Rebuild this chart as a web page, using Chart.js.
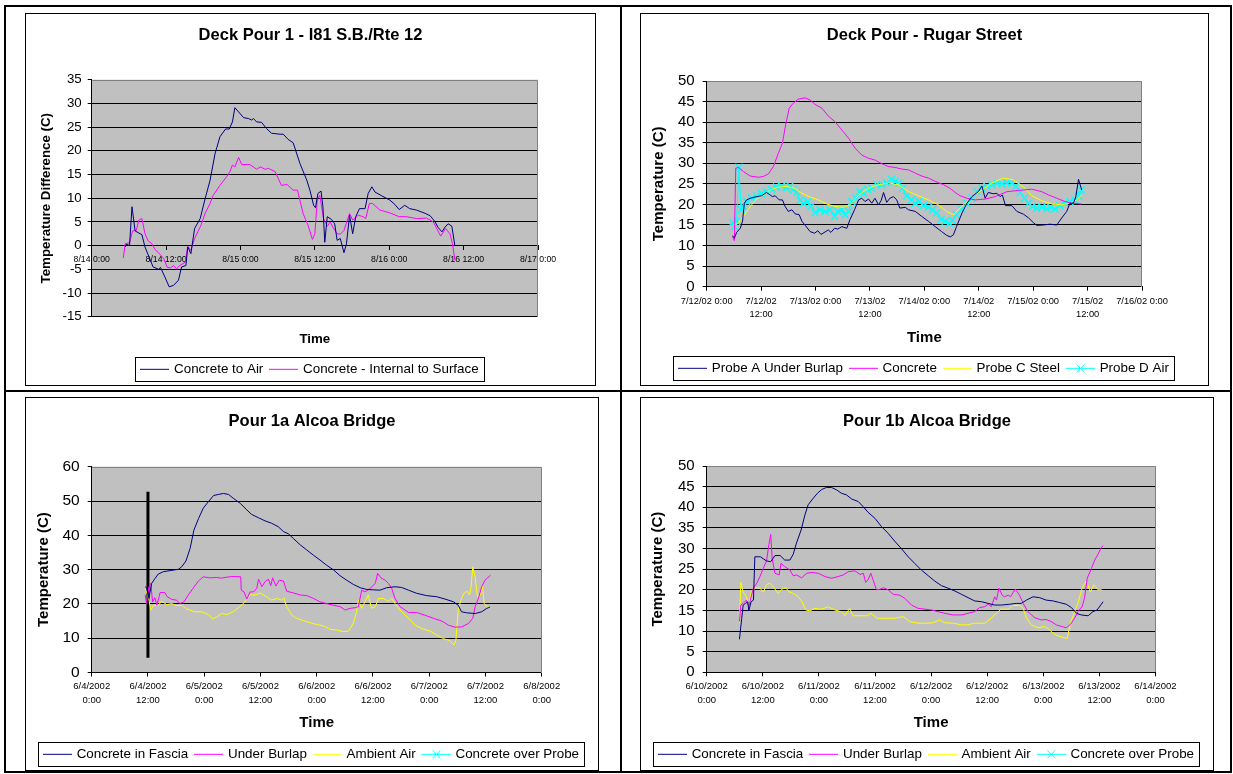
<!DOCTYPE html>
<html>
<head>
<meta charset="utf-8">
<script src="https://cdn.jsdelivr.net/npm/chart.js@4.4.0/dist/chart.umd.min.js"></script>
<style>
  html, body { margin: 0; padding: 0; background: #fff; }
  body { width: 1233px; height: 774px; position: relative; overflow: hidden; }
  .rule { position: absolute; background: #000; }
  .frame { position: absolute; border: 1px solid #000; box-sizing: border-box; }
  canvas { position: absolute; }
</style>
</head>
<body>
<!-- table rules -->
<div class="rule" style="left:4px;top:5px;width:1228px;height:2px"></div>
<div class="rule" style="left:4px;top:771px;width:1228px;height:2px"></div>
<div class="rule" style="left:4px;top:5px;width:2px;height:768px"></div>
<div class="rule" style="left:1230px;top:5px;width:2px;height:768px"></div>
<div class="rule" style="left:620px;top:5px;width:2px;height:768px"></div>
<div class="rule" style="left:4px;top:390px;width:1228px;height:2px"></div>

<!-- chart frames -->
<div class="frame" style="left:25px;top:13px;width:571px;height:373px"></div>
<div class="frame" style="left:640px;top:13px;width:569px;height:373px"></div>
<div class="frame" style="left:25px;top:397px;width:574px;height:374px"></div>
<div class="frame" style="left:640px;top:397px;width:574px;height:374px"></div>

<canvas id="deck" width="571" height="373" style="left:25px;top:13px"></canvas>
<canvas id="rugar" width="569" height="372" style="left:640px;top:13px"></canvas>
<canvas id="pour1a" width="574" height="374" style="left:25px;top:397px"></canvas>
<canvas id="pour1b" width="574" height="374" style="left:640px;top:397px"></canvas>

<script>
// ---------- Deck Pour 1 - I81 S.B./Rte 12 : [hours from 8/14 0:00, deg C] ----------
const deckConcreteToAir = [[5.4,-0.3],[5.6,0.3],[6.1,0],[6.5,8.2],[7.0,3.1],[8.1,2.3],[8.6,-0.3],[9.9,-4.5],[10.8,-5],[11.1,-4.6],[11.8,-6.6],[12.5,-8.7],[13.2,-8.4],[14.0,-7.3],[14.5,-4.5],[15.2,-4.2],[15.5,-0.3],[16.0,-1.7],[16.6,3.6],[17.5,5.7],[18.3,9.9],[19.1,13.8],[19.9,19.4],[20.7,23.0],[21.6,24.6],[22.2,24.6],[22.7,26.1],[23.1,29.1],[23.7,28.2],[24.5,27.0],[25.3,26.8],[25.8,26.5],[26.1,26.8],[26.6,26.1],[27.4,26.0],[28.2,24.7],[29.0,23.7],[30.4,23.5],[30.9,23.5],[31.7,22.4],[32.5,21.7],[33.6,17.3],[34.7,13.8],[35.2,11.7],[35.8,8.5],[36.1,8.0],[36.5,11.0],[37.0,11.5],[37.3,8.2],[37.6,0.7],[38.0,6.1],[38.7,5.5],[39.2,4.6],[39.6,1.1],[40.1,1.5],[40.7,-1.5],[41.1,0.4],[41.6,6.4],[42.1,2.5],[42.6,6.1],[43.2,7.8],[44.1,7.8],[44.6,11.0],[45.2,12.4],[45.7,11.3],[46.8,10.5],[48.1,9.6],[48.9,8.7],[49.6,7.6],[50.5,8.5],[51.3,7.8],[52.4,7.5],[53.8,6.8],[54.6,6.3],[55.4,5.0],[55.9,3.8],[56.5,2.9],[57.0,3.9],[57.5,4.6],[58.1,4.1],[58.6,-0.1]];
const deckInternalToSurface = [[5.1,-2.6],[5.4,0.4],[6.1,0.6],[6.6,3.1],[7.2,3.2],[7.6,5.4],[8.1,5.7],[8.6,2.5],[9.1,1.0],[9.7,0.4],[10.2,-0.8],[11.0,-1.8],[11.6,-2.7],[12.2,-4.6],[12.7,-4.7],[13.2,-4.2],[13.7,-4.9],[14.2,-4.2],[15.1,-3.5],[15.5,-0.1],[16.0,-1.0],[16.6,1.5],[17.6,4.2],[18.3,6.8],[19.1,8.9],[19.6,10.6],[20.7,12.7],[21.8,14.6],[22.3,15.6],[22.7,17.0],[23.1,16.6],[23.7,18.6],[24.2,17.1],[25.5,17.1],[26.1,16.6],[26.6,16.1],[27.2,16.6],[28.0,16.1],[28.5,16.3],[29.6,15.6],[30.6,12.7],[31.5,12.9],[32.5,11.7],[33.2,11.7],[34.1,6.8],[34.9,4.3],[35.6,1.3],[36.0,2.5],[36.4,9.9],[36.8,10.6],[37.4,5.7],[38.0,4.1],[38.5,5.0],[38.9,3.9],[39.6,2.5],[40.1,2.4],[40.7,3.2],[41.6,6.8],[42.1,5.4],[43.0,6.4],[43.8,6.1],[44.2,5.7],[44.8,8.9],[45.3,8.9],[46.5,7.5],[48.1,6.9],[49.6,6.1],[50.8,6.1],[52.4,5.7],[54.0,5.8],[55.1,5.0],[56.3,2.0],[57.1,3.6],[57.8,2.5],[58.2,0.4],[58.6,-3.1]];
const deckTickLabels = ['8/14 0:00','8/14 12:00','8/15 0:00','8/15 12:00','8/16 0:00','8/16 12:00','8/17 0:00'];

// ---------- Deck Pour - Rugar Street : [hours from 7/12/02 0:00, deg C] ----------
const rugarProbeA = [[5.7,12.4],[6.1,11.8],[6.6,13.2],[7.4,14.2],[7.9,15.9],[8.3,20.3],[8.8,21.1],[9.6,21.5],[10.7,21.8],[12.1,22.1],[13.2,22.9],[14.0,22.3],[14.5,21.9],[15.1,22.1],[16.0,21.1],[16.7,21.1],[17.3,19.5],[18.0,18.3],[18.8,18.7],[19.5,17.7],[20.4,17.5],[21.0,15.9],[21.8,14.8],[22.8,13.4],[23.8,13.0],[24.5,13.6],[25.2,12.7],[26.1,13.3],[26.8,13.8],[27.4,13.2],[28.2,14.2],[28.9,14.0],[29.8,14.6],[30.9,14.2],[31.6,16.3],[32.6,18.7],[33.5,21.1],[34.2,21.5],[34.9,20.7],[35.7,21.3],[36.4,20.3],[37.1,21.5],[37.9,19.9],[38.5,21.0],[39.0,22.9],[39.7,20.5],[40.4,21.5],[41.2,21.9],[41.9,21.1],[42.6,19.1],[43.8,19.3],[44.5,18.7],[46.0,18.3],[47.4,17.1],[48.9,15.9],[50.4,14.6],[51.8,13.4],[52.9,12.5],[53.7,12.1],[54.4,12.6],[55.1,14.6],[56.3,17.9],[57.4,20.3],[58.5,21.9],[59.9,23.1],[60.7,24.5],[61.4,21.5],[62.1,22.9],[63.2,22.6],[64.0,22.7],[64.7,21.9],[65.2,22.3],[65.9,19.7],[67.3,19.7],[68.4,18.3],[69.9,17.6],[71.0,16.7],[72.1,15.5],[72.8,14.9],[74.3,15.0],[75.7,15.2],[77.2,15.0],[78.3,16.7],[79.4,18.3],[80.1,20.3],[80.9,20.3],[81.4,21.9],[82.0,26.1],[82.7,23.5]];
const rugarConcrete = [[5.7,12.2],[6.1,11.2],[6.4,28.8],[7.0,29.0],[8.1,28.0],[9.6,26.9],[11.4,26.6],[12.5,26.8],[13.6,27.4],[14.7,29.2],[15.8,32.4],[16.7,34.9],[17.4,39.3],[18.2,43.4],[19.1,44.6],[20.2,45.6],[21.7,45.9],[22.8,45.4],[23.9,44.3],[25.4,43.4],[26.8,41.5],[28.3,40.1],[29.8,38.1],[31.3,36.1],[32.7,33.7],[34.2,32.0],[35.7,31.2],[37.1,30.8],[38.6,29.9],[40.1,29.2],[41.5,29.0],[43.0,28.6],[44.5,28.4],[46.0,27.6],[47.4,26.9],[48.9,26.4],[50.4,25.6],[52.2,24.8],[53.7,23.9],[54.8,22.9],[55.9,22.1],[57.4,21.5],[59.2,21.1],[61.4,21.3],[63.6,21.9],[66.2,23.1],[68.8,23.4],[71.7,23.7],[73.9,23.1],[75.4,22.3],[77.2,21.5],[79.0,20.7],[80.5,20.3],[82.7,20.1]];
const rugarSteel = [[5.9,15.0],[7.0,15.5],[8.1,17.1],[9.6,19.5],[11.0,21.3],[12.5,22.3],[14.0,23.5],[15.8,24.2],[17.6,24.4],[19.5,23.9],[21.0,22.7],[22.8,21.8],[24.6,21.1],[26.5,20.1],[28.3,19.5],[30.1,19.3],[31.6,19.9],[33.5,22.3],[35.7,23.9],[37.9,24.8],[40.1,25.2],[42.3,24.8],[44.5,23.1],[46.7,22.1],[48.9,21.1],[51.1,19.9],[52.9,18.3],[54.4,17.5],[55.5,18.7],[57.0,20.3],[58.8,22.1],[60.7,23.5],[62.9,25.2],[65.4,26.4],[67.6,26.0],[69.9,24.2],[71.7,22.1],[73.9,20.9],[76.1,20.1],[78.3,19.9],[80.1,20.3],[81.6,21.1],[82.7,22.3]];
const rugarAir = [[5.7,15.6],[6.1,14.6],[6.6,15.9],[7.1,29.0],[7.6,18.7],[8.1,19.5],[8.8,20.7],[9.9,21.5],[11.0,22.1],[12.1,22.6],[13.2,23.1],[14.3,23.7],[15.4,24.2],[16.5,24.4],[17.6,24.0],[18.4,24.5],[19.1,23.5],[19.9,22.9],[20.6,21.0],[21.3,20.3],[22.3,20.7],[23.0,19.5],[23.9,18.0],[25.0,18.7],[26.1,18.3],[27.2,18.7],[28.2,17.1],[28.9,18.3],[29.8,18.7],[30.5,17.5],[31.3,18.3],[32.0,20.7],[32.9,21.5],[33.8,23.1],[34.6,22.7],[35.5,23.7],[36.4,23.9],[37.5,24.8],[38.6,24.8],[39.7,25.2],[40.8,26.1],[41.5,25.6],[42.4,25.2],[43.2,23.9],[44.1,22.1],[45.1,21.1],[46.0,20.3],[46.8,20.7],[47.8,19.7],[48.9,19.3],[49.8,18.7],[50.7,17.9],[51.7,16.4],[52.6,15.9],[53.5,15.5],[54.2,16.1],[55.1,17.5],[56.3,18.9],[57.4,20.3],[58.5,21.5],[59.6,23.1],[60.7,23.9],[61.8,24.4],[62.9,24.8],[64.0,25.2],[65.1,25.0],[66.2,25.3],[67.3,25.2],[68.2,24.4],[69.1,22.9],[70.1,21.5],[71.0,20.3],[71.8,19.5],[72.8,19.1],[73.9,19.3],[75.0,18.9],[75.9,19.3],[76.8,18.9],[77.9,19.7],[79.0,20.3],[80.1,20.7],[81.2,21.1],[82.0,22.1],[82.6,23.5]];
const rugarTickLabels = ['7/12/02 0:00',['7/12/02','12:00'],'7/13/02 0:00',['7/13/02','12:00'],'7/14/02 0:00',['7/14/02','12:00'],'7/15/02 0:00',['7/15/02','12:00'],'7/16/02 0:00'];

// ---------- Pour 1a Alcoa Bridge : [hours from 6/4/2002 0:00, deg C] ----------
const pour1aFascia = [[11.4,25.0],[11.7,24.7],[12.2,21.6],[12.8,26.0],[13.5,27.4],[14.2,28.7],[15.3,29.4],[16.7,29.7],[18.5,30.1],[19.2,30.8],[20.1,32.5],[21.0,36.2],[21.8,41.5],[22.8,44.9],[23.8,47.9],[24.9,49.8],[26.0,51.6],[27.0,51.9],[28.1,52.2],[29.2,51.9],[30.2,50.8],[31.7,49.3],[33.1,47.4],[34.1,46.1],[35.6,45.1],[37.0,44.2],[38.4,43.5],[39.8,42.5],[40.9,41.1],[42.0,40.4],[43.0,39.1],[44.5,37.2],[45.9,35.7],[47.3,34.2],[48.7,32.8],[50.1,31.3],[51.6,29.9],[53.0,28.2],[54.4,26.9],[55.8,25.7],[57.3,24.7],[58.7,24.2],[60.1,24.1],[61.5,24.0],[62.9,24.7],[64.7,25.0],[66.1,24.8],[67.6,24.0],[69.3,23.1],[71.5,22.4],[73.6,22.1],[75.4,21.4],[77.2,20.6],[78.2,19.6],[78.9,17.7],[80.0,17.4],[81.8,17.2],[83.2,17.7],[84.3,18.7],[85.0,19.1]];
const pour1aBurlap = [[11.4,22.6],[11.7,20.1],[12.2,25.0],[12.6,26.0],[13.0,20.6],[13.5,21.8],[13.9,19.6],[14.6,23.3],[15.6,23.3],[16.1,22.1],[17.1,21.3],[18.1,21.1],[18.8,20.1],[19.7,20.6],[20.6,22.6],[21.7,24.7],[22.8,26.7],[23.8,27.9],[25.2,27.6],[26.7,27.7],[27.7,27.5],[28.8,27.8],[30.2,28.0],[31.8,27.9],[31.9,24.0],[32.5,23.5],[33.1,21.4],[33.8,23.5],[34.5,23.5],[35.2,24.5],[35.6,27.2],[36.3,25.0],[37.0,26.5],[37.7,27.2],[38.2,25.3],[38.6,27.6],[39.3,25.2],[40.0,26.9],[40.9,26.7],[41.6,23.7],[43.0,23.2],[44.5,22.6],[45.9,22.4],[47.3,21.6],[48.7,20.6],[50.1,20.1],[51.6,19.6],[53.0,19.2],[54.1,18.2],[55.1,18.7],[56.2,18.9],[56.9,19.2],[57.6,24.0],[58.3,23.5],[59.4,24.5],[60.5,26.0],[61.0,28.9],[61.7,27.6],[62.6,26.9],[63.3,26.0],[64.0,24.5],[64.7,21.6],[65.8,19.2],[67.6,17.5],[69.3,17.5],[71.1,16.7],[72.9,15.8],[74.7,15.0],[76.1,13.8],[77.5,13.2],[78.9,13.3],[80.4,14.3],[81.3,15.8],[81.8,19.2],[82.5,21.6],[83.2,25.0],[83.9,26.9],[85.1,28.4]];
const pour1aAmbient = [[11.4,24.5],[12.1,22.1],[12.6,18.2],[13.2,19.6],[14.2,19.5],[14.9,20.8],[16.0,19.8],[17.1,20.1],[18.1,19.5],[19.2,19.6],[20.3,18.5],[22.0,17.7],[23.5,17.7],[24.9,16.9],[25.8,15.6],[26.7,16.2],[27.7,17.2],[28.8,16.9],[30.2,17.7],[31.6,19.2],[32.7,20.6],[33.8,22.6],[34.9,22.6],[35.9,23.2],[37.3,22.1],[38.4,21.1],[39.5,21.6],[40.5,21.1],[41.0,21.8],[41.6,19.2],[42.7,16.7],[43.7,15.8],[45.2,15.1],[46.6,14.5],[48.0,14.0],[49.4,13.6],[50.9,12.6],[52.3,12.4],[53.7,11.9],[54.8,12.1],[55.8,14.3],[56.5,17.7],[56.9,21.1],[57.6,18.7],[58.3,20.6],[59.0,22.6],[59.7,18.7],[60.5,19.2],[61.2,21.6],[62.2,21.6],[63.3,20.8],[64.0,21.6],[64.7,20.1],[66.1,17.7],[67.6,15.8],[69.0,13.8],[70.4,12.8],[72.2,12.1],[73.6,10.9],[75.0,9.9],[76.4,9.3],[77.3,8.0],[77.7,9.4],[78.2,18.5],[78.9,21.6],[79.4,23.1],[80.1,23.7],[80.6,22.6],[80.9,24.5],[81.3,30.8],[81.8,27.9],[82.3,22.1],[82.9,22.6],[83.4,25.3],[83.7,20.1],[84.4,19.2],[85.1,18.9]];
const pour1aOverProbe = [];
const pour1aPlacement = [[12,4.3],[12,52.7]];
const pour1aTickLabels = [['6/4/2002','0:00'],['6/4/2002','12:00'],['6/5/2002','0:00'],['6/5/2002','12:00'],['6/6/2002','0:00'],['6/6/2002','12:00'],['6/7/2002','0:00'],['6/7/2002','12:00'],['6/8/2002','0:00']];

// ---------- Pour 1b Alcoa Bridge : [hours from 6/10/2002 0:00, deg C] ----------
const pour1bFascia = [[7.0,8.0],[7.5,13.1],[7.8,16.3],[8.3,16.7],[8.8,17.1],[9.0,14.9],[9.5,17.1],[10.0,17.5],[10.3,28.0],[11.0,28.0],[11.5,28.0],[12.1,27.5],[12.8,27.0],[13.7,26.8],[14.6,28.3],[15.7,28.3],[16.7,27.2],[17.8,27.2],[18.5,28.6],[19.2,31.3],[20.2,34.5],[21.0,38.1],[21.7,40.6],[22.8,42.2],[23.7,43.4],[24.6,44.3],[25.6,44.8],[26.7,44.8],[27.8,44.2],[28.8,43.4],[29.9,43.0],[31.0,42.0],[32.4,41.4],[33.5,40.1],[34.5,38.8],[36.0,37.3],[37.4,35.3],[38.8,33.7],[40.2,31.8],[41.7,29.9],[43.1,28.0],[44.5,26.4],[45.9,24.8],[47.4,23.4],[48.8,22.1],[50.2,21.0],[51.6,20.4],[53.1,19.7],[54.5,18.9],[55.9,18.1],[57.3,17.3],[58.8,17.1],[60.2,16.7],[61.6,16.3],[63.0,16.3],[64.8,16.5],[66.2,16.7],[67.3,16.7],[68.4,17.5],[69.8,18.3],[71.2,18.1],[72.6,17.5],[74.1,17.3],[75.5,16.9],[76.9,16.5],[78.0,15.7],[79.1,14.3],[80.1,13.9],[81.6,13.7],[82.6,14.7],[83.5,15.1],[84.8,17.1]];
const pour1bBurlap = [[7.0,12.3],[7.3,16.3],[7.8,16.7],[8.5,17.5],[9.0,15.9],[9.5,18.3],[10.0,20.4],[10.7,21.6],[11.4,23.2],[12.1,25.2],[12.8,27.0],[13.3,30.9],[13.7,33.4],[14.0,27.6],[14.6,24.0],[15.5,23.6],[15.9,26.4],[16.7,25.6],[17.8,24.8],[18.5,23.4],[19.2,23.6],[20.3,22.9],[21.4,24.0],[22.4,24.2],[23.9,24.0],[25.3,23.2],[26.7,22.8],[28.1,23.2],[29.2,23.6],[30.3,24.4],[31.7,24.6],[32.8,23.7],[33.5,24.0],[34.0,21.8],[34.5,22.4],[35.1,24.0],[35.6,22.4],[36.3,20.0],[37.0,20.1],[37.8,20.5],[38.8,20.0],[39.9,18.9],[41.3,18.7],[42.4,17.9],[43.8,16.3],[45.2,15.5],[46.7,15.3],[48.1,15.1],[49.5,14.7],[50.9,14.3],[52.7,13.9],[54.5,13.9],[55.9,14.3],[57.3,14.7],[58.4,15.7],[59.5,15.9],[60.2,16.5],[60.9,15.9],[61.6,18.3],[62.0,17.5],[62.5,20.4],[63.2,18.7],[63.7,18.3],[64.5,18.7],[65.0,18.3],[66.0,20.2],[66.9,18.7],[67.7,16.7],[68.7,14.7],[70.2,13.2],[71.6,12.7],[72.6,12.8],[73.7,12.3],[74.8,11.5],[75.9,11.1],[76.9,10.8],[77.8,11.6],[78.7,13.1],[79.4,14.7],[80.3,15.9],[80.8,17.9],[81.4,22.8],[82.3,25.2],[83.0,27.2],[83.7,28.6],[84.4,30.2],[84.8,30.7]];
const pour1bAmbient = [[7.0,11.9],[7.3,21.8],[7.8,19.5],[8.5,18.3],[9.0,16.3],[9.5,19.4],[10.0,20.0],[10.5,20.5],[11.4,20.4],[12.1,19.4],[12.8,21.2],[13.5,21.6],[14.2,20.8],[15.3,19.1],[16.0,20.1],[16.9,20.5],[17.6,19.5],[18.5,19.1],[19.6,18.3],[20.4,17.1],[21.2,15.1],[22.1,14.9],[23.1,15.5],[24.6,15.3],[26.0,15.9],[27.4,15.1],[28.8,14.7],[29.6,13.7],[30.1,14.7],[30.6,15.5],[31.3,13.7],[32.8,13.7],[34.2,13.7],[35.1,14.3],[36.5,13.1],[38.1,13.1],[40.2,13.1],[42.0,13.5],[43.4,12.3],[45.2,11.9],[47.0,11.9],[48.4,12.0],[49.8,12.7],[50.9,12.0],[52.7,11.9],[54.5,11.5],[55.9,11.5],[57.2,11.9],[59.5,11.9],[60.9,13.2],[62.0,14.3],[62.9,15.3],[64.5,15.3],[65.5,16.2],[67.0,16.2],[67.7,15.5],[68.4,13.1],[69.4,11.5],[70.9,10.8],[72.3,11.1],[73.1,10.5],[74.4,9.2],[75.8,8.6],[77.1,8.2],[77.8,11.9],[78.7,14.7],[79.4,16.7],[80.3,20.4],[81.2,22.1],[82.1,19.5],[82.8,21.2],[83.7,20.0],[84.5,20.0]];
const pour1bOverProbe = [];
const pour1bTickLabels = [['6/10/2002','0:00'],['6/10/2002','12:00'],['6/11/2002','0:00'],['6/11/2002','12:00'],['6/12/2002','0:00'],['6/12/2002','12:00'],['6/13/2002','0:00'],['6/13/2002','12:00'],['6/14/2002','0:00']];

// ---------- drawing ----------
Chart.defaults.font.family = "'Liberation Sans', Arial, sans-serif";
Chart.defaults.color = '#000';

const NAVY = '#000080', MAGENTA = '#FF00FF', YELLOW = '#FFFF00', CYAN = '#00FFFF';

// grey plot background plus the light frame on its top and right edges
const plotArea = {
  id: 'plotArea',
  beforeDraw(chart) {
    const { ctx, chartArea: a } = chart;
    ctx.save();
    ctx.fillStyle = '#C0C0C0';
    ctx.fillRect(a.left, a.top, a.right - a.left, a.bottom - a.top);
    ctx.restore();
  },
  beforeDatasetsDraw(chart) {
    const { ctx, chartArea: a } = chart;
    const t = Math.round(a.top) + 0.5, r = Math.round(a.right) - 0.5;
    ctx.save();
    ctx.strokeStyle = '#808080';
    ctx.lineWidth = 1;
    ctx.beginPath();
    ctx.moveTo(Math.round(a.left), t); ctx.lineTo(r, t); ctx.lineTo(r, Math.round(a.bottom));
    ctx.stroke();
    ctx.restore();
  }
};

// thin box drawn around the legend row
const legendFrame = {
  id: 'legendFrame',
  afterDraw(chart) {
    const lg = chart.legend;
    if (!lg || !lg.legendHitBoxes || !lg.legendHitBoxes.length) return;
    const hb = lg.legendHitBoxes, first = hb[0], last = hb[hb.length - 1];
    const x0 = Math.round(first.left - 7) + 0.5;
    const x1 = Math.round(last.left + last.width + 5) + 0.5;
    const cy = first.top + first.height / 2;
    const y0 = Math.round(cy - 12) + 0.5, y1 = Math.round(cy + 12) + 0.5;
    const ctx = chart.ctx;
    ctx.save();
    ctx.strokeStyle = '#000';
    ctx.lineWidth = 1;
    ctx.strokeRect(x0, y0, x1 - x0, y1 - y0);
    ctx.restore();
  }
};

// small line (and marker) sample used as a legend symbol
function legendSample(color, marker) {
  const c = document.createElement('canvas');
  c.width = 29; c.height = 11;
  const g = c.getContext('2d');
  g.strokeStyle = color; g.lineWidth = 1;
  g.beginPath(); g.moveTo(0, 5.5); g.lineTo(29, 5.5); g.stroke();
  if (marker) {
    g.beginPath();
    g.moveTo(10.5, 1.5); g.lineTo(18.5, 9.5);
    g.moveTo(18.5, 1.5); g.lineTo(10.5, 9.5);
    g.stroke();
  }
  return c;
}

const pts = arr => arr.map(([x, y]) => ({ x, y }));
const series = (label, arr, color) => ({
  label, data: pts(arr), borderColor: color, backgroundColor: color,
  borderWidth: 1, pointRadius: 0, tension: 0, fill: false
});
const markedSeries = (label, arr, color) => Object.assign(series(label, arr, color), {
  pointRadius: 5, pointStyle: 'crossRot', pointBorderColor: color, pointBorderWidth: 1.4
});

function makeChart(id, g, datasets) {
  const scales = {
    y: {
      type: 'linear', position: 'left', min: g.yMin, max: g.yMax,
      ticks: { stepSize: g.yStep, autoSkip: false, font: { size: g.yTickSize }, padding: g.yTickPad, color: '#000' },
      grid: {
        color: c => (c.tick && c.tick.value === g.yMax) ? 'rgba(0,0,0,0)' : '#000',
        tickColor: '#000', tickLength: 4, lineWidth: 1
      },
      border: { color: '#000', width: 1 },
      title: {
        display: true, text: g.yTitle, color: '#000',
        font: { size: g.yTitleSize, weight: 'bold', lineHeight: 1 },
        padding: { top: g.yTitlePad, bottom: 0 }
      },
      afterFit: s => { s.width = g.yWidth; }
    },
    yPad: {
      type: 'linear', position: 'right', display: true,
      ticks: { display: false }, grid: { display: false, drawTicks: false }, border: { display: false },
      afterFit: s => { s.width = g.rightWidth; }
    },
    x: {
      type: 'linear', position: g.zeroAxis ? { y: 0 } : 'bottom',
      min: 0, max: g.xMax,
      ticks: {
        stepSize: 12, autoSkip: false, maxRotation: 0, minRotation: 0,
        font: { size: g.xTickSize, lineHeight: g.xTickLine }, padding: g.xTickPad, color: '#000',
        callback: (v, i) => g.xLabels[i]
      },
      grid: { drawOnChartArea: false, tickColor: '#000', tickLength: 4 },
      border: { color: '#000', width: 1 }
    }
  };
  const timeTitle = {
    display: true, text: 'Time', color: '#000',
    font: { size: g.timeSize, weight: 'bold', lineHeight: 1 },
    padding: { top: 0, bottom: g.timePad }
  };
  if (g.zeroAxis) {
    scales.xTime = {
      type: 'linear', position: 'bottom', display: true,
      ticks: { display: false }, grid: { display: false, drawTicks: false }, border: { display: false },
      title: timeTitle,
      afterFit: s => { s.height = g.xHeight; }
    };
  } else {
    scales.x.title = timeTitle;
    scales.x.afterFit = s => { s.height = g.xHeight; };
  }

  return new Chart(document.getElementById(id), {
    type: 'line',
    data: { datasets },
    options: {
      responsive: false, animation: false, devicePixelRatio: 1, events: [],
      layout: { padding: 0 },
      plugins: {
        tooltip: { enabled: false },
        title: {
          display: true, text: g.title, color: '#000',
          font: { size: 16.5, weight: 'bold', lineHeight: 1 },
          padding: { top: g.titleTop, bottom: g.titleBottom }
        },
        legend: {
          position: 'bottom',
          labels: {
            usePointStyle: true, pointStyleWidth: 25, padding: 8, color: '#000',
            font: { size: 13.4 },
            generateLabels: chart => chart.data.datasets
              .map((d, i) => ({ d, i }))
              .filter(o => o.d.label)
              .map(({ d, i }) => ({
                text: d.label, datasetIndex: i, hidden: false, lineWidth: 0,
                fillStyle: d.borderColor, strokeStyle: d.borderColor, fontColor: '#000',
                pointStyle: legendSample(d.borderColor, d.pointStyle === 'crossRot')
              }))
          }
        }
      },
      scales
    },
    plugins: [plotArea, legendFrame]
  });
}

makeChart('deck', {
  title: 'Deck Pour 1 - I81 S.B./Rte 12', titleTop: 13.75, titleBottom: 36.45,
  yMin: -15, yMax: 35, yStep: 5, yTickSize: 13.3, yTickPad: 6,
  yTitle: 'Temperature Difference (C)', yTitleSize: 13.3, yTitlePad: 14.95,
  yWidth: 66.7, rightWidth: 58,
  zeroAxis: true, xMax: 72, xLabels: deckTickLabels, xTickSize: 8.7, xTickLine: 1.2, xTickPad: 4.8,
  timeSize: 13.3, timePad: 8.65, xHeight: 37.9
}, [
  series('Concrete to Air', deckConcreteToAir, NAVY),
  series('Concrete - Internal to Surface', deckInternalToSurface, MAGENTA)
]);

makeChart('rugar', {
  title: 'Deck Pour - Rugar Street', titleTop: 13.75, titleBottom: 37.75,
  yMin: 0, yMax: 50, yStep: 5, yTickSize: 15, yTickPad: 8,
  yTitle: 'Temperature (C)', yTitleSize: 15, yTitlePad: 11.7,
  yWidth: 66.7, rightWidth: 67,
  zeroAxis: false, xMax: 96, xLabels: rugarTickLabels, xTickSize: 9.3, xTickLine: '13px', xTickPad: 3.8,
  timeSize: 15, timePad: 8.4, xHeight: 66.9
}, [
  series('Probe A Under Burlap', rugarProbeA, NAVY),
  series('Concrete', rugarConcrete, MAGENTA),
  series('Probe C Steel', rugarSteel, YELLOW),
  markedSeries('Probe D Air', rugarAir, CYAN)
]);

makeChart('pour1a', {
  title: 'Pour 1a Alcoa Bridge', titleTop: 16.45, titleBottom: 36.75,
  yMin: 0, yMax: 60, yStep: 10, yTickSize: 15.5, yTickPad: 8,
  yTitle: 'Temperature (C)', yTitleSize: 15, yTitlePad: 11.8,
  yWidth: 66.7, rightWidth: 57.3,
  zeroAxis: false, xMax: 96, xLabels: pour1aTickLabels, xTickSize: 9.5, xTickLine: '14px', xTickPad: 3.2,
  timeSize: 15, timePad: 9.4, xHeight: 67.1
}, [
  series('Concrete in Fascia', pour1aFascia, NAVY),
  series('Under Burlap', pour1aBurlap, MAGENTA),
  series('Ambient Air', pour1aAmbient, YELLOW),
  markedSeries('Concrete over Probe', pour1aOverProbe, CYAN),
  Object.assign(series('', pour1aPlacement, '#000'), { borderWidth: 3 })
]);

makeChart('pour1b', {
  title: 'Pour 1b Alcoa Bridge', titleTop: 16.45, titleBottom: 36.05,
  yMin: 0, yMax: 50, yStep: 5, yTickSize: 15, yTickPad: 8,
  yTitle: 'Temperature (C)', yTitleSize: 15, yTitlePad: 10.8,
  yWidth: 66.7, rightWidth: 58.5,
  zeroAxis: false, xMax: 96, xLabels: pour1bTickLabels, xTickSize: 9.5, xTickLine: '14px', xTickPad: 3.4,
  timeSize: 15, timePad: 9.4, xHeight: 67.3
}, [
  series('Concrete in Fascia', pour1bFascia, NAVY),
  series('Under Burlap', pour1bBurlap, MAGENTA),
  series('Ambient Air', pour1bAmbient, YELLOW),
  markedSeries('Concrete over Probe', pour1bOverProbe, CYAN)
]);
</script>
</body>
</html>
